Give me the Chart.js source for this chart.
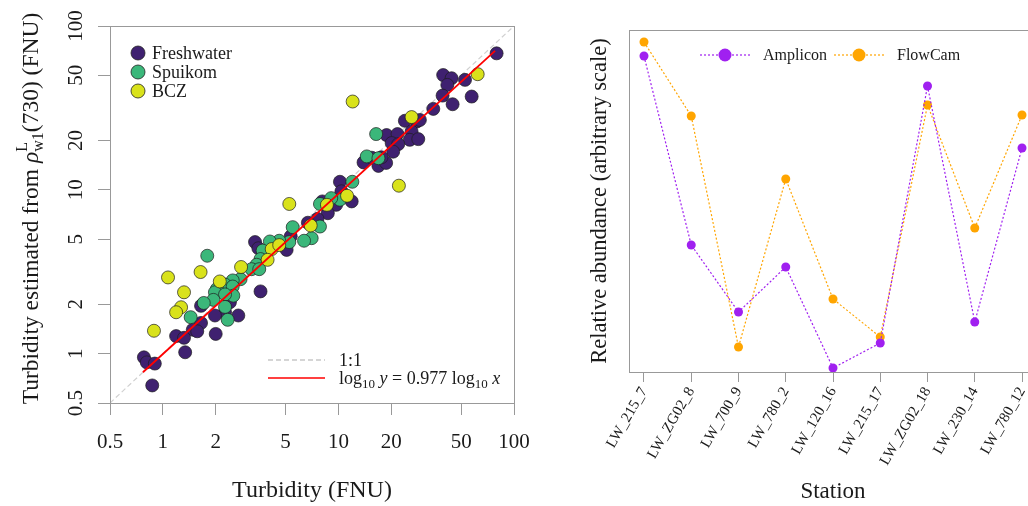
<!DOCTYPE html>
<html lang="en">
<head>
<meta charset="UTF-8">
<title>Turbidity and relative abundance</title>
<script src="https://cdn.jsdelivr.net/npm/chart.js"></script>
<style>
  html, body { margin: 0; padding: 0; background: #fff; overflow: hidden; }
  #wrap { position: relative; width: 1028px; height: 506px; overflow: hidden; }
  #left { position: absolute; left: 0; top: 0; }
  #right { position: absolute; left: 560px; top: 0; }
</style>
</head>
<body>
<div id="wrap">
  <canvas id="left" width="530" height="506"></canvas>
  <canvas id="right" width="490" height="506"></canvas>
</div>
<script>
// ---- left panel: measured vs estimated turbidity (FNU) ----
const freshX = [79.6, 39.5, 44.1, 41.7, 52.6, 39.2, 44.7, 57.4, 34.7, 23.9, 27.9, 29.1, 26.1, 25.5, 28.5, 18.8, 21.7, 20.1, 21.9, 20.5, 13.9, 15.5, 16.9, 18.7, 17.6, 10.2, 10.4, 11.9, 9.7, 8.1, 8.7, 7.6, 6.7, 5.35, 5.07, 3.35, 3.5, 3.6, 2.41, 2.26, 2.69, 1.98, 1.65, 1.65, 1.48, 1.57, 2.0, 1.19, 1.32, 1.34, 0.78, 0.81, 0.9, 0.87];
const freshY = [68.1, 50.2, 48.0, 43.7, 46.9, 37.6, 33.3, 37.1, 31.2, 26.4, 26.1, 26.7, 22.7, 20.2, 20.4, 21.6, 21.9, 19.3, 19.0, 17.1, 14.7, 15.7, 14.0, 14.6, 15.8, 11.2, 9.8, 8.5, 8.1, 8.5, 7.2, 6.65, 6.3, 5.2, 4.3, 4.8, 4.4, 2.4, 2.06, 1.79, 1.71, 1.71, 1.96, 1.54, 1.40, 1.37, 1.32, 1.28, 1.25, 1.02, 0.95, 0.885, 0.87, 0.64];
const spuiX = [16.4, 14.5, 16.9, 12.0, 10.2, 9.1, 7.85, 7.85, 7.04, 6.37, 5.49, 5.25, 4.6, 4.07, 3.7, 3.6, 3.42, 3.2, 3.54, 2.77, 2.5, 2.26, 2.03, 2.5, 1.98, 2.52, 2.26, 1.94, 1.71, 2.26, 1.44, 2.34, 1.79];
const spuiY = [21.9, 16.0, 15.6, 11.2, 8.7, 8.9, 8.2, 5.97, 5.07, 4.89, 5.92, 4.8, 4.89, 4.84, 4.26, 3.78, 3.49, 3.28, 3.28, 2.85, 2.8, 2.64, 2.48, 2.57, 2.37, 2.26, 2.3, 2.13, 2.04, 1.93, 1.67, 1.61, 3.96];
const bczX = [62.1, 12.05, 26.1, 22.1, 11.2, 8.6, 5.25, 6.95, 4.17, 4.6, 3.95, 2.79, 2.11, 1.64, 1.07, 1.32, 1.27, 1.19, 0.89];
const bczY = [50.8, 34.6, 27.8, 10.6, 9.2, 8.1, 8.2, 6.06, 4.35, 4.6, 3.74, 3.38, 2.76, 3.15, 2.92, 2.37, 1.92, 1.79, 1.38];
const oneToOneX = [0.5, 100];
const oneToOneY = [0.5, 100];
const fitX = [0.77, 78];
const fitY = [0.77, 70.5];
const logTicks = [0.5, 1, 2, 5, 10, 20, 50, 100];

// ---- right panel: relative abundance per station ----
const stations = ['LW_215_7', 'LW_ZG02_8', 'LW_700_9', 'LW_780_2', 'LW_120_16', 'LW_215_17', 'LW_ZG02_18', 'LW_230_14', 'LW_780_12'];
const amplicon = [31.6, 12.7, 6.0, 10.5, 0.4, 2.9, 28.6, 5.0, 22.4];
const flowcam = [33.0, 25.6, 2.5, 19.3, 7.3, 3.5, 26.7, 14.4, 25.7];

const SERIF = '"Liberation Serif", "DejaVu Serif", serif';
const INK = '#1a1a1a';
const FRAME = '#999999';
const colFresh = '#3f2170';
const colSpui = '#3bb77a';
const colBcz = '#d9e21b';
const colAmp = '#a020f0';
const colFlow = '#ffa500';

function pts(xs, ys) {
    return xs.map((x, i) => ({ x: x, y: ys[i] }));
}

// text made of several runs (sub/superscripts, italics)
function runWidth(ctx, runs) {
    let w = 0;
    runs.forEach(r => {
        if (r.stack) {
            w += Math.max(...r.stack.map(s => { ctx.font = (s.it ? 'italic ' : '') + s.sz + 'px ' + SERIF; return ctx.measureText(s.t).width; }));
        } else {
            ctx.font = (r.it ? 'italic ' : '') + r.sz + 'px ' + SERIF;
            w += ctx.measureText(r.t).width;
        }
    });
    return w;
}
function drawRuns(ctx, runs, x, y) {
    runs.forEach(r => {
        if (r.stack) {
            let adv = 0;
            r.stack.forEach(s => {
                ctx.font = (s.it ? 'italic ' : '') + s.sz + 'px ' + SERIF;
                ctx.fillText(s.t, x, y + s.dy);
                adv = Math.max(adv, ctx.measureText(s.t).width);
            });
            x += adv;
        } else {
            ctx.font = (r.it ? 'italic ' : '') + r.sz + 'px ' + SERIF;
            ctx.fillText(r.t, x, y + (r.dy || 0));
            x += ctx.measureText(r.t).width;
        }
    });
}

const framePlugin = {
    id: 'frame',
    afterDatasetsDraw(chart) {
        const a = chart.chartArea;
        const ctx = chart.ctx;
        ctx.save();
        ctx.strokeStyle = FRAME;
        ctx.lineWidth = 1;
        ctx.strokeRect(Math.round(a.left) + 0.5, Math.round(a.top) + 0.5, Math.round(a.right - a.left), Math.round(a.bottom - a.top));
        ctx.restore();
    }
};

const leftDecor = {
    id: 'leftDecor',
    afterDraw(chart) {
        const ctx = chart.ctx;
        const a = chart.chartArea;
        ctx.save();
        ctx.fillStyle = INK;
        ctx.textBaseline = 'alphabetic';

        // y axis title, rotated
        const title = [
            { t: 'Turbidity estimated from ', sz: 23.5 },
            { t: 'ρ', sz: 23.5, it: true },
            { stack: [{ t: 'L', sz: 16, dy: -11 }, { t: 'w1', sz: 16, dy: 5 }] },
            { t: '(730) (FNU)', sz: 23.5 }
        ];
        const tw = runWidth(ctx, title);
        ctx.translate(38, (a.top + a.bottom) / 2 - 6);
        ctx.rotate(-Math.PI / 2);
        drawRuns(ctx, title, -tw / 2, 0);
        ctx.setTransform(1, 0, 0, 1, 0, 0);

        // group legend, top left
        const groups = [['Freshwater', colFresh], ['Spuikom', colSpui], ['BCZ', colBcz]];
        groups.forEach((g, i) => {
            const y = a.top + 27 + i * 19;
            ctx.beginPath();
            ctx.arc(a.left + 28, y, 7, 0, Math.PI * 2);
            ctx.fillStyle = g[1];
            ctx.fill();
            ctx.lineWidth = 0.8;
            ctx.strokeStyle = '#222';
            ctx.stroke();
            ctx.fillStyle = INK;
            ctx.font = '18px ' + SERIF;
            ctx.textBaseline = 'middle';
            ctx.fillText(g[0], a.left + 42, y + 1);
        });

        // line legend, bottom right
        const ly1 = a.bottom - 43, ly2 = a.bottom - 25;
        ctx.lineWidth = 1.5;
        ctx.strokeStyle = '#c8c8c8';
        ctx.setLineDash([5, 3]);
        ctx.beginPath(); ctx.moveTo(a.left + 158, ly1); ctx.lineTo(a.left + 215, ly1); ctx.stroke();
        ctx.setLineDash([]);
        ctx.strokeStyle = '#ff0000';
        ctx.beginPath(); ctx.moveTo(a.left + 158, ly2); ctx.lineTo(a.left + 215, ly2); ctx.stroke();
        ctx.fillStyle = INK;
        ctx.textBaseline = 'alphabetic';
        drawRuns(ctx, [{ t: '1:1', sz: 18 }], a.left + 229, ly1 + 6);
        drawRuns(ctx, [
            { t: 'log', sz: 18 }, { t: '10', sz: 13, dy: 4 }, { t: ' ', sz: 18 }, { t: 'y', sz: 18, it: true },
            { t: ' = 0.977 log', sz: 18 }, { t: '10', sz: 13, dy: 4 }, { t: ' ', sz: 18 }, { t: 'x', sz: 18, it: true }
        ], a.left + 229, ly2 + 6);
        ctx.restore();
    }
};

function scatterSet(label, xs, ys, color, order) {
    return {
        type: 'scatter',
        label: label,
        data: pts(xs, ys),
        backgroundColor: color,
        borderColor: '#1e1e1e',
        borderWidth: 0.7,
        pointRadius: 6.5,
        order: order
    };
}

new Chart(document.getElementById('left'), {
    type: 'scatter',
    data: {
        datasets: [
            { type: 'line', label: '1:1', data: pts(oneToOneX, oneToOneY), borderColor: '#d0d0d0', borderWidth: 1.2, borderDash: [5, 3], pointRadius: 0, order: 5 },
            scatterSet('Freshwater', freshX, freshY, colFresh, 4),
            scatterSet('Spuikom', spuiX, spuiY, colSpui, 3),
            scatterSet('BCZ', bczX, bczY, colBcz, 2),
            { type: 'line', label: 'fit', data: pts(fitX, fitY), borderColor: '#ff0000', borderWidth: 1.8, pointRadius: 0, order: 1 }
        ]
    },
    options: {
        responsive: false,
        animation: false,
        layout: { padding: { left: 0, top: 26, right: 16, bottom: 0 } },
        plugins: { legend: { display: false }, tooltip: { enabled: false } },
        scales: {
            x: {
                type: 'logarithmic',
                min: 0.5, max: 100,
                afterBuildTicks: s => { s.ticks = logTicks.map(v => ({ value: v })); },
                afterFit: s => { s.height = 103; s.paddingLeft = 0; s.paddingRight = 0; },
                border: { display: false },
                grid: { drawOnChartArea: false, drawTicks: true, tickLength: 12, color: FRAME },
                ticks: { color: INK, font: { family: SERIF, size: 21 }, padding: 15, autoSkip: false, maxRotation: 0, callback: v => String(v) },
                title: { display: true, text: 'Turbidity (FNU)', color: INK, font: { family: SERIF, size: 24 }, padding: { bottom: 1 } }
            },
            y: {
                type: 'logarithmic',
                min: 0.5, max: 100,
                afterBuildTicks: s => { s.ticks = logTicks.map(v => ({ value: v })); },
                afterFit: s => { s.width = 110; s.paddingTop = 0; s.paddingBottom = 0; },
                border: { display: false },
                grid: { drawOnChartArea: false, drawTicks: true, tickLength: 12, color: FRAME },
                ticks: { color: INK, font: { family: SERIF, size: 21 }, padding: 6, autoSkip: false, minRotation: 90, maxRotation: 90, crossAlign: 'center', callback: v => String(v) }
            }
        }
    },
    plugins: [framePlugin, leftDecor]
});

// ---- right panel ----
const rightLegend = {
    id: 'rightLegend',
    afterDraw(chart) {
        const ctx = chart.ctx;
        const a = chart.chartArea;
        const y = a.top + 25;
        const items = [['Amplicon', colAmp, 71], ['FlowCam', colFlow, 205]];
        ctx.save();
        items.forEach(it => {
            const x0 = a.left + it[2];
            ctx.strokeStyle = it[1];
            ctx.lineWidth = 1.2;
            ctx.setLineDash([2, 2]);
            ctx.beginPath(); ctx.moveTo(x0, y); ctx.lineTo(x0 + 51, y); ctx.stroke();
            ctx.setLineDash([]);
            ctx.beginPath(); ctx.arc(x0 + 25, y, 6.5, 0, Math.PI * 2);
            ctx.fillStyle = it[1]; ctx.fill();
            ctx.fillStyle = INK;
            ctx.font = '16px ' + SERIF;
            ctx.textBaseline = 'middle';
            ctx.fillText(it[0], x0 + 63, y + 1);
        });
        ctx.restore();
    }
};

function lineSet(label, vals, color) {
    return {
        label: label,
        data: vals.map((v, i) => ({ x: i, y: v })),
        borderColor: color,
        borderWidth: 1.2,
        borderDash: [2, 2],
        backgroundColor: color,
        pointBackgroundColor: color,
        pointBorderWidth: 0,
        pointRadius: 4.5,
        tension: 0
    };
}

new Chart(document.getElementById('right'), {
    type: 'line',
    data: { datasets: [lineSet('Amplicon', amplicon, colAmp), lineSet('FlowCam', flowcam, colFlow)] },
    options: {
        responsive: false,
        animation: false,
        layout: { padding: { left: 0, top: 30, right: 13, bottom: 0 } },
        plugins: { legend: { display: false }, tooltip: { enabled: false } },
        scales: {
            x: {
                type: 'linear',
                min: -0.317, max: 8.317,
                afterBuildTicks: s => { s.ticks = stations.map((n, i) => ({ value: i })); },
                afterFit: s => { s.height = 134; s.paddingLeft = 0; s.paddingRight = 0; },
                border: { display: false },
                grid: { drawOnChartArea: false, drawTicks: true, tickLength: 10, color: FRAME },
                ticks: { color: INK, font: { family: SERIF, size: 15 }, padding: 2, autoSkip: false, minRotation: 60, maxRotation: 60, callback: v => stations[v] },
                title: { display: true, text: 'Station', color: INK, font: { family: SERIF, size: 23 }, padding: { bottom: 0 } }
            },
            y: {
                min: 0, max: 34.2,
                afterFit: s => { s.width = 69; },
                border: { display: false },
                grid: { display: false },
                ticks: { display: false },
                title: { display: true, text: 'Relative abundance (arbitrary scale)', color: INK, font: { family: SERIF, size: 22.5 }, padding: { top: 27 } }
            }
        }
    },
    plugins: [framePlugin, rightLegend]
});
</script>
</body>
</html>
